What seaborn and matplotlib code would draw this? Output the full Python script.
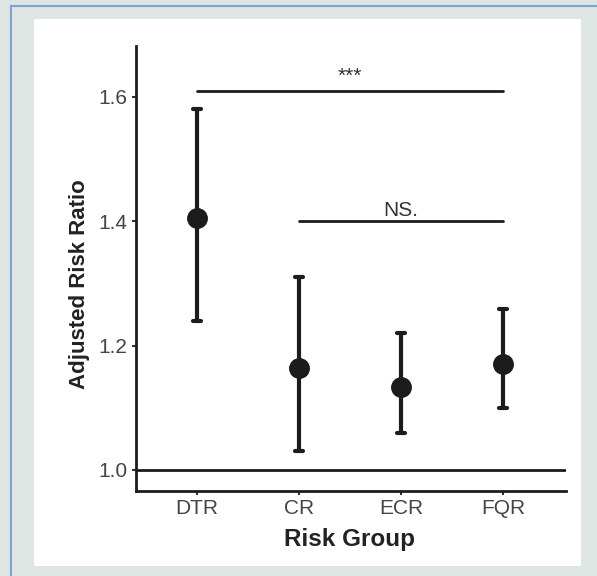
import matplotlib
matplotlib.use("Agg")
import matplotlib.pyplot as plt
import seaborn as sns
import pandas as pd
from matplotlib.patches import Rectangle

groups = ["DTR", "CR", "ECR", "FQR"]
point_est = [1.405, 1.164, 1.133, 1.171]
ci_lower = [1.240, 1.030, 1.059, 1.099]
ci_upper = [1.580, 1.310, 1.220, 1.259]
yticks = [1.0, 1.2, 1.4, 1.6]

rows = []
for g, lo, pt, hi in zip(groups, ci_lower, point_est, ci_upper):
    for v in (lo, pt, hi):
        rows.append({"group": g, "value": v})
df = pd.DataFrame(rows)

sns.set_theme(style="white")
plt.rcParams["font.family"] = ["Liberation Sans", "DejaVu Sans"]

W, H = 597, 576
fig = plt.figure(figsize=(W / 100, H / 100), dpi=100)
fig.patch.set_facecolor("#dde6e2")

# outer border and white panel
fig.add_artist(Rectangle((11 / W, -0.01), 1.02 - 11 / W, 1.01 - 6 / H, transform=fig.transFigure,
                         facecolor="#dde6e2", edgecolor="#7ea4d4", linewidth=1.5, zorder=-3))
fig.add_artist(Rectangle((34 / W, 1 - 566 / H), (581 - 34) / W, (566 - 19) / H,
                         transform=fig.transFigure, facecolor="white", edgecolor="none", zorder=-2))

ax = fig.add_axes([136 / W, 1 - 491 / H, (566 - 136) / W, (491 - 46) / H])
ax.set_facecolor("none")

sns.pointplot(data=df, x="group", y="value", order=groups,
              estimator="median", errorbar=lambda x: (x.min(), x.max()),
              color="#1c1c1c", linestyle="none", markersize=13,
              capsize=0.08, err_kws={"linewidth": 3.0}, ax=ax)

ax.set_xlim(-0.6, 3.62)
ax.set_ylim(0.966, 1.682)
ax.set_yticks(yticks)
ax.set_yticklabels([f"{t:.1f}" for t in yticks])

ax.axhline(1.0, color="#1c1c1c", linewidth=2.0, zorder=1)

# significance brackets
ax.plot([0, 3], [1.61, 1.61], color="#1c1c1c", linewidth=2.0)
ax.text(1.5, 1.634, "***", ha="center", va="center", fontsize=15, color="#333333")
ax.plot([1, 3], [1.40, 1.40], color="#1c1c1c", linewidth=2.0)
ax.text(2.0, 1.418, "NS.", ha="center", va="center", fontsize=15, color="#333333")

for s in ["top", "right"]:
    ax.spines[s].set_visible(False)
for s in ["left", "bottom"]:
    ax.spines[s].set_color("#1c1c1c")
    ax.spines[s].set_linewidth(2.0)

ax.tick_params(axis="both", which="both", direction="out", length=3, width=1.5,
               color="#333333", labelcolor="#444444", labelsize=15, pad=3,
               left=True, bottom=True)
ax.set_xlabel("Risk Group", fontsize=17.5, fontweight="bold", color="#222222")
ax.set_ylabel("Adjusted Risk Ratio", fontsize=16, fontweight="bold", color="#222222")
ax.yaxis.set_label_coords(-0.107, 0.465)
ax.xaxis.set_label_coords(0.497, -0.084)

fig.savefig("out.png", dpi=100, facecolor=fig.get_facecolor())
